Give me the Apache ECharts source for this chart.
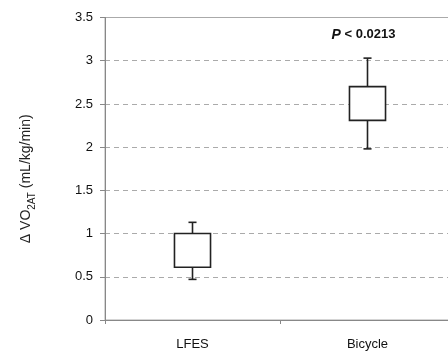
<!DOCTYPE html>
<html>
<head>
<meta charset="utf-8">
<script src="https://cdn.jsdelivr.net/npm/echarts@6/dist/echarts.min.js"></script>
<style>
html,body{margin:0;padding:0;background:#fff;}
#c{width:448px;height:351px;}
</style>
</head>
<body>
<div id="c"></div>
<script>
var categories = ['LFES', 'Bicycle'];
var whiskerLow = [0.47, 1.98];
var boxLow = [0.61, 2.31];
var boxHigh = [1.0, 2.70];
var whiskerHigh = [1.13, 3.03];
var annotationText = ['', 'P < 0.0213'];
var annotationValue = [null, 3.3];
var yTicks = [0, 0.5, 1, 1.5, 2, 2.5, 3, 3.5];

var seriesData = categories.map(function (c, i) {
  return [i, whiskerLow[i], boxLow[i], boxHigh[i], whiskerHigh[i], annotationValue[i]];
});

var chart = echarts.init(document.getElementById('c'), null, {renderer: 'canvas'});
var font = 'Liberation Sans, Arial, sans-serif';
chart.setOption({
  animation: false,
  grid: {
    left: 105, top: 17.5, bottom: 31, right: -7,
    outerBoundsMode: 'none',
    containLabel: false,
    show: true, borderColor: '#aaa', borderWidth: 1, backgroundColor: 'transparent'
  },
  xAxis: {
    type: 'category',
    data: categories,
    boundaryGap: true,
    axisLine: {lineStyle: {color: '#888', width: 1}},
    axisTick: {show: true, length: 4, lineStyle: {color: '#888'}},
    axisLabel: {color: '#111', fontFamily: font, fontSize: 13, margin: 18}
  },
  yAxis: {
    type: 'value',
    min: 0, max: 3.5, interval: 0.5,
    axisLine: {show: true, lineStyle: {color: '#888', width: 1}},
    axisTick: {show: true, length: 5, lineStyle: {color: '#888'}},
    axisLabel: {
      color: '#111', fontFamily: font, fontSize: 13, margin: 12,
      formatter: function (v) { return yTicks.indexOf(v) >= 0 ? String(v) : ''; }
    },
    splitLine: {show: true, lineStyle: {color: '#aaa', type: [5, 4], width: 1}},
    name: '{n|Δ VO}{s|2AT}{n| (mL/kg/min)}',
    nameLocation: 'middle',
    nameRotate: 90,
    nameGap: 72,
    nameTextStyle: {
      padding: [0, 20, 0, 0],
      rich: {
        n: {fontFamily: font, fontSize: 14, color: '#222', lineHeight: 16, verticalAlign: 'bottom'},
        s: {fontFamily: font, fontSize: 10, color: '#222', lineHeight: 16, verticalAlign: 'bottom', padding: [0, 0, -4, 0]}
      }
    }
  },
  series: [{
    type: 'custom',
    data: seriesData,
    encode: {x: 0, y: [1, 2, 3, 4]},
    renderItem: function (params, api) {
      var idx = api.value(0);
      var pWL = api.coord([idx, api.value(1)]);
      var pBL = api.coord([idx, api.value(2)]);
      var pBH = api.coord([idx, api.value(3)]);
      var pWH = api.coord([idx, api.value(4)]);
      var bandW = api.size([1, 0])[0];
      var boxW = bandW * 0.206;
      var capW = bandW * 0.046;
      var x = pBL[0];
      var st = {stroke: '#222', lineWidth: 1.6, fill: null};
      var children = [
        {type: 'line', shape: {x1: x, y1: pWH[1], x2: x, y2: pBH[1]}, style: st},
        {type: 'line', shape: {x1: x, y1: pBL[1], x2: x, y2: pWL[1]}, style: st},
        {type: 'line', shape: {x1: x - capW / 2, y1: pWH[1], x2: x + capW / 2, y2: pWH[1]}, style: st},
        {type: 'line', shape: {x1: x - capW / 2, y1: pWL[1], x2: x + capW / 2, y2: pWL[1]}, style: st},
        {type: 'rect', shape: {x: x - boxW / 2, y: pBH[1], width: boxW, height: pBL[1] - pBH[1]},
          style: {stroke: '#222', lineWidth: 1.6, fill: '#fff'}}
      ];
      var txt = annotationText[params.dataIndex];
      if (txt) {
        var pA = api.coord([idx, api.value(5)]);
        var parts = txt.split(' ');
        children.push({
          type: 'text',
          style: {
            x: pA[0] - 4, y: pA[1],
            text: '{i|' + parts[0] + '}{b| ' + parts.slice(1).join(' ') + '}',
            align: 'center', verticalAlign: 'middle',
            rich: {
              i: {fontFamily: font, fontSize: 14, fontWeight: 'bold', fontStyle: 'italic', fill: '#111'},
              b: {fontFamily: font, fontSize: 13, fontWeight: 'bold', fill: '#111'}
            }
          }
        });
      }
      return {type: 'group', children: children};
    },
    z: 5
  }]
});
</script>
</body>
</html>
